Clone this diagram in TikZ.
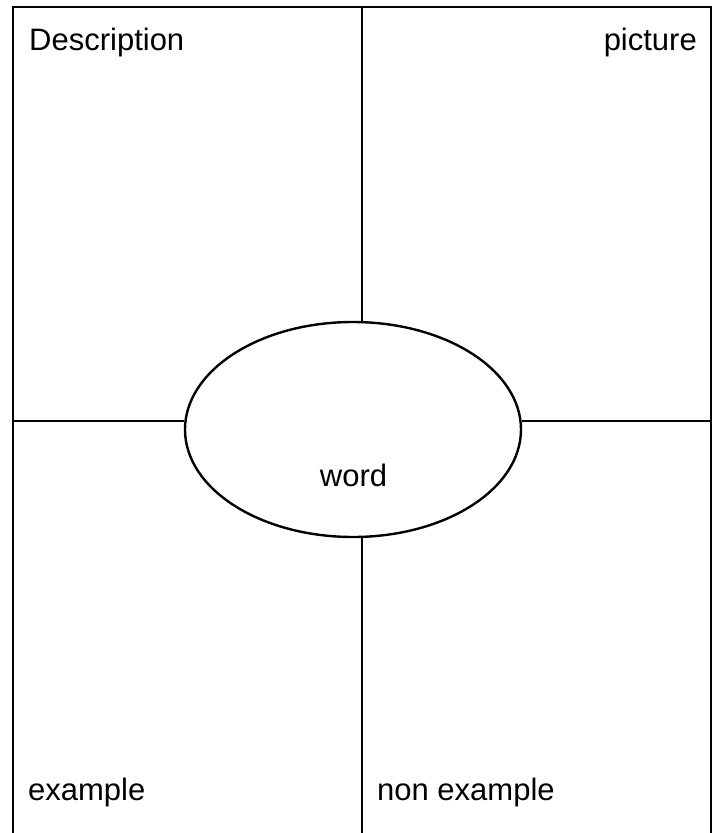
\documentclass[tikz,border=0pt]{standalone}
\usepackage{fontspec}
\setmainfont{Liberation Sans}
\usetikzlibrary{positioning,shapes.geometric}
\tikzset{
    cell/.style={inner sep=0pt,font=\fontsize{31}{37}\selectfont},
    rule/.style={line width=2.4pt}
}
\begin{document}
\begin{tikzpicture}[x=1pt,y=-1pt]
        \useasboundingbox (0,0) rectangle (721,833);
        % frame corners
        \coordinate (bl) at (13,833);
        \coordinate (tl) at (13,7);
        \coordinate (tr) at (711,7);
        \coordinate (br) at (711,833);
        \coordinate (topmid) at (362,7);
        \coordinate (botmid) at (362,833);
        \coordinate (leftmid) at (13,421);
        \coordinate (rightmid) at (711,421);
        % frame
        \draw[rule] (bl) -- (tl) -- (tr) -- (br);
        % oval
        \node[rule,draw,ellipse,inner sep=0pt,minimum width=336pt,minimum height=215pt] (wordoval) at (353,429.5) {};
        % cross lines
        \draw[rule] (topmid) -- (topmid |- wordoval.north);
        \draw[rule] (botmid) -- (botmid |- wordoval.south);
        \draw[rule] (leftmid) -- (leftmid -| wordoval.west);
        \draw[rule] (rightmid) -- (rightmid -| wordoval.east);
        % labels
        \node[cell,anchor=base west] (desc) at (29,50) {Description};
        \node[cell,anchor=base east] (pic) at (697,50) {picture};
        \node[cell,anchor=base west] (ex) at (28,800) {example};
        \node[cell,anchor=base west] (nonex) at (377,800) {non example};
        \node[cell,anchor=base] (word) at (353.5,486) {word};
    \end{tikzpicture}
\end{document}
